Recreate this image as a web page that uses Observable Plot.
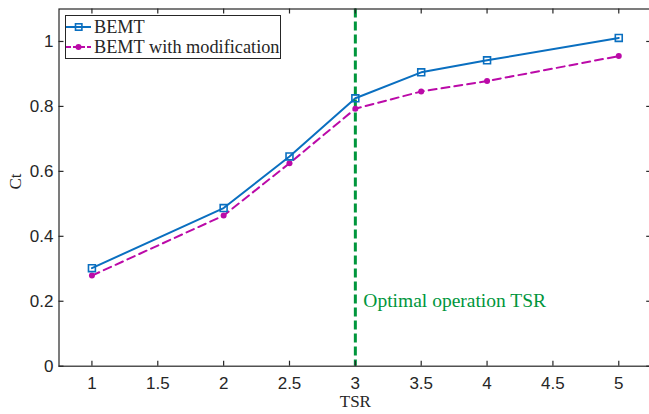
<!DOCTYPE html>
<html><head><meta charset="utf-8">
<script src="https://cdn.jsdelivr.net/npm/d3@7"></script>
<script src="https://cdn.jsdelivr.net/npm/@observablehq/plot@0.6"></script>
<style>
html,body{margin:0;padding:0;background:#fff;}
#wrap{position:relative;width:649px;height:414px;overflow:hidden;background:#fff;}
#legend{position:absolute;left:65px;top:15px;width:216px;height:44px;box-sizing:border-box;border:1.2px solid #262626;background:#fff;
  font-family:"Liberation Serif","Times New Roman",serif;font-size:18.3px;color:#262626;padding-top:1px;}
#legend .row{display:flex;align-items:center;height:20px;white-space:nowrap;}
#legend svg{display:block;margin-left:0;margin-right:3px;}
</style></head><body><div id="wrap"></div>
<script>
const tsr = [1, 2, 2.5, 3, 3.5, 4, 5];
const ctBEMT = [0.302, 0.487, 0.646, 0.825, 0.905, 0.942, 1.011];
const ctModified = [0.279, 0.464, 0.625, 0.793, 0.846, 0.878, 0.955];
const seriesNames = ["BEMT", "BEMT with modification"];
const xTicks = [1, 1.5, 2, 2.5, 3, 3.5, 4, 4.5, 5];
const yTicks = [0, 0.2, 0.4, 0.6, 0.8, 1];
const optimalTSR = [3];
const annotationText = ["Optimal operation TSR"];
const xLabel = ["TSR"];
const yLabel = ["Ct"];

const blue = "#0a6fc0", magenta = "#bb0aa8", green = "#00963c", axisColor = "#262626";
const serif = "'Liberation Serif', 'Times New Roman', serif";
const rows = tsr.map((x, i) => ({tsr: x, bemt: ctBEMT[i], mod: ctModified[i]}));

const W = 649, H = 414, mL = 58.5, mT = 8.5, mB = 48.3, mR = -2.2;
const plotW = W - mL - mR, plotH = H - mT - mB;
const tick = 5;

const chart = Plot.plot({
  width: W, height: H,
  marginLeft: mL, marginTop: mT, marginBottom: mB, marginRight: mR,
  style: {fontFamily: "'Liberation Sans', Arial, sans-serif", fontSize: "17px", color: axisColor, background: "#fff", overflow: "hidden"},
  x: {domain: [0.75, 5.25]},
  y: {domain: [0, 1.1]},
  marks: [
    Plot.line(rows, {x: "tsr", y: "mod", stroke: magenta, strokeWidth: 2, strokeDasharray: "8,5"}),
    Plot.line(rows, {x: "tsr", y: "bemt", stroke: blue, strokeWidth: 2}),
    Plot.ruleX(optimalTSR, {x: d => d, stroke: green, strokeWidth: 3, strokeDasharray: "9,4"}),
    Plot.dot(rows, {x: "tsr", y: "mod", r: 3, fill: magenta}),
    Plot.dot(rows, {x: "tsr", y: "bemt", symbol: "square", r: 3.9, stroke: blue, strokeWidth: 1.6, fill: "none"}),
    Plot.text(annotationText, {x: () => optimalTSR[0], frameAnchor: "bottom", dy: -59, dx: 8, text: d => d, textAnchor: "start",
      fill: green, fontFamily: serif, fontSize: 19.5}),
    Plot.frame({stroke: axisColor, strokeWidth: 1.2}),
    Plot.tickX(xTicks, {x: d => d, insetTop: plotH - tick, stroke: axisColor, strokeWidth: 1.2}),
    Plot.tickX(xTicks, {x: d => d, insetBottom: plotH - tick, stroke: axisColor, strokeWidth: 1.2}),
    Plot.tickY(yTicks, {y: d => d, insetRight: plotW - tick, stroke: axisColor, strokeWidth: 1.2}),
    Plot.tickY(yTicks, {y: d => d, insetLeft: plotW - tick, stroke: axisColor, strokeWidth: 1.2}),
    Plot.axisX(xTicks, {tickSize: 0, tickPadding: 11, label: null, tickFormat: d => String(d), fill: axisColor}),
    Plot.axisY(yTicks, {tickSize: 0, tickPadding: 5.5, label: null, tickFormat: d => String(d), fill: axisColor}),
    Plot.text(xLabel, {frameAnchor: "bottom", dy: 35, text: d => d, lineAnchor: "middle", fill: axisColor,
      fontFamily: serif, fontSize: 17}),
    Plot.text(yLabel, {frameAnchor: "left", dx: -43.5, dy: 2, rotate: -90, text: d => d, lineAnchor: "middle", fill: axisColor,
      fontFamily: serif, fontSize: 17})
  ]
});

const wrap = document.getElementById("wrap");
wrap.appendChild(chart);

// Legend (HTML, above the SVG)
const legend = document.createElement("div");
legend.id = "legend";
const styles = [
  {stroke: blue, dash: null, marker: "square"},
  {stroke: magenta, dash: "5,2", marker: "circle"}
];
seriesNames.forEach((name, i) => {
  const s = styles[i];
  const row = document.createElement("div");
  row.className = "row";
  const sw = d3.create("svg").attr("width", 25).attr("height", 12);
  sw.append("line").attr("x1", 0).attr("x2", 25).attr("y1", 6).attr("y2", 6)
    .attr("stroke", s.stroke).attr("stroke-width", 2).attr("stroke-dasharray", s.dash);
  if (s.marker === "square") {
    sw.append("rect").attr("x", 9.5).attr("y", 2.8).attr("width", 6.4).attr("height", 6.4)
      .attr("fill", "none").attr("stroke", s.stroke).attr("stroke-width", 1.6);
  } else {
    sw.append("circle").attr("cx", 12.5).attr("cy", 6).attr("r", 3).attr("fill", s.stroke);
  }
  row.appendChild(sw.node());
  const t = document.createElement("span");
  t.textContent = name;
  row.appendChild(t);
  legend.appendChild(row);
});
wrap.appendChild(legend);
</script>
</body></html>
